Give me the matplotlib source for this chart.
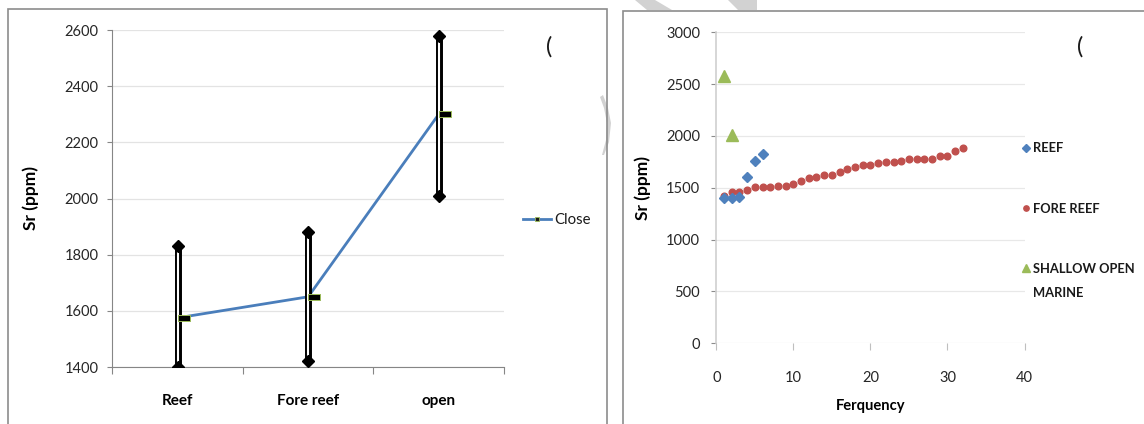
import matplotlib
matplotlib.use('Agg')
import matplotlib.pyplot as plt
from matplotlib.path import Path
from matplotlib.lines import Line2D
from matplotlib.patches import Rectangle, Polygon

plt.rcParams['font.family'] = ['Lato', 'DejaVu Sans']
plt.rcParams['text.color'] = '#1a1a1a'

# left chart: high / low / close per environment
categories = ['Reef', 'Fore reef', 'open']
sr_high = [1830, 1880, 2580]
sr_low = [1400, 1420, 2010]
sr_close = [1575, 1650, 2300]

# right chart: Sr values by rank (frequency)
freq_reef = [1, 2, 3, 4, 5, 6]
sr_reef = [1400, 1400, 1410, 1605, 1760, 1830]
freq_fore = [1, 2, 3, 4, 5, 6, 7, 8, 9, 10, 11, 12, 13, 14, 15, 16,
             17, 18, 19, 20, 21, 22, 23, 24, 25, 26, 27, 28, 29, 30, 31, 32]
sr_fore = [1420, 1455, 1455, 1480, 1503, 1503, 1510, 1513, 1522, 1538, 1564, 1590,
           1603, 1628, 1628, 1654, 1686, 1705, 1724, 1724, 1737, 1750, 1750, 1757,
           1776, 1776, 1776, 1776, 1808, 1808, 1853, 1882]
freq_open = [1, 2]
sr_open = [2580, 2010]

W, H = 1144, 424


def fx(px):
    return px / W


def fy(py):
    return 1 - py / H


fig = plt.figure(figsize=(W / 100, H / 100), dpi=100)

# panel frames and bits of the background watermark
fig.add_artist(Rectangle((fx(8.3), fy(430)), fx(606.7 - 8.3), fy(9.3) - fy(430),
                         fill=False, ec='#8c8c8c', lw=1.2, zorder=-1))
fig.add_artist(Rectangle((fx(622.7), fy(430)), fx(1150 - 622.7), fy(11) - fy(430),
                         fill=False, ec='#8c8c8c', lw=1.2, zorder=-1))
wm = '#d2d2d2'
for pts in [[(635, 0), (655, 0), (672, 10), (647, 10)],
            [(728, 0), (757, 0), (757, 10), (738, 10)],
            [(603, 95), (608, 108), (611, 123), (609, 142), (604, 155),
             (602, 155), (606, 140), (607, 123), (604, 108), (600, 97)]]:
    fig.add_artist(Polygon([(fx(a), fy(b)) for a, b in pts], closed=True,
                           fc=wm, ec='none', zorder=-2))

# ---------------- left: high-low-close ----------------
ax1 = fig.add_axes([fx(112.4), fy(367), fx(504 - 112.4), fy(30) - fy(367)])
x = list(range(len(categories)))

ax1.plot(x, sr_close, color='#4A7EBB', lw=2, zorder=2)
ax1.vlines(x, sr_low, sr_high, color='black', lw=5, zorder=3)
ax1.vlines(x, sr_low, sr_high, color='white', lw=1.5, zorder=3.1)
ax1.plot(x, sr_high, ls='none', marker='D', ms=6.2, color='black', zorder=4)
ax1.plot(x, sr_low, ls='none', marker='D', ms=6.2, color='black', zorder=4)

close_mark = Path([(0, -0.25), (1, -0.25), (1, 0.25), (0, 0.25), (0, -0.25)],
                  [Path.MOVETO, Path.LINETO, Path.LINETO, Path.LINETO, Path.CLOSEPOLY])
ax1.plot(x, sr_close, ls='none', marker=close_mark, ms=17, mfc='black',
         mec='#9BBB59', mew=0.7, zorder=5)

ax1.set_xlim(-0.5, 2.5)
ax1.set_ylim(1400, 2600)
ax1.set_yticks([1400, 1600, 1800, 2000, 2200, 2400, 2600])
ax1.set_xticks([-0.5, 0.5, 1.5, 2.5])
ax1.set_xticklabels([])
ax1.set_xticks(x, minor=True)
ax1.set_xticklabels(categories, minor=True, fontweight='bold', fontsize=11)
ax1.tick_params(axis='x', which='major', length=5, color='#868686', direction='out')
ax1.tick_params(axis='x', which='minor', length=0, pad=19.5)
ax1.tick_params(axis='y', length=3.6, color='#868686', pad=6.5, labelsize=10.5,
                labelcolor='#262626')
for s in ['top', 'right']:
    ax1.spines[s].set_visible(False)
for s in ['left', 'bottom']:
    ax1.spines[s].set_color('#868686')
ax1.yaxis.grid(True, color='#e3e3e3', lw=0.9)
ax1.set_axisbelow(True)
ax1.set_ylabel('Sr (ppm)', fontweight='bold', fontsize=12.5, labelpad=18)

close_handle = Line2D([0], [0], color='#4A7EBB', lw=2, marker='s', ms=2.5,
                      mfc='#1a1a1a', mec='#9BBB59', mew=0.6)
ax1.legend(handles=[close_handle], labels=['Close'], loc='center left',
           bbox_to_anchor=((523 - 112.4) / 391.6, (367 - 220) / 337),
           frameon=False, borderpad=0, borderaxespad=0, handlelength=1.9,
           handletextpad=0.2, fontsize=10.7)
fig.text(fx(549), fy(47), '(', fontsize=17, ha='center', va='center')

# ---------------- right: Sr vs frequency ----------------
ax2 = fig.add_axes([fx(716.3), fy(343.3), fx(1024.5 - 716.3), fy(32.3) - fy(343.3)])
ax2.plot(freq_reef, sr_reef, ls='none', marker='D', ms=5.3, color='#4F81BD',
         label='REEF', zorder=3)
ax2.plot(freq_fore, sr_fore, ls='none', marker='o', ms=4.8, color='#C0504D',
         label='FORE REEF', zorder=2)
ax2.plot(freq_open, sr_open, ls='none', marker='^', ms=8, color='#9BBB59',
         label='SHALLOW OPEN', zorder=3)

ax2.set_xlim(0, 40)
ax2.set_ylim(0, 3000)
ax2.set_xticks([0, 10, 20, 30, 40])
ax2.set_yticks([0, 500, 1000, 1500, 2000, 2500, 3000])
ax2.tick_params(axis='x', length=5, color='#bfbfbf', pad=15, labelsize=10.5,
                labelcolor='#262626')
ax2.tick_params(axis='y', length=3.6, color='#8c8c8c', pad=8, labelsize=10.5,
                labelcolor='#262626')
for s in ['top', 'right', 'bottom']:
    ax2.spines[s].set_visible(False)
ax2.spines['left'].set_color('#d0d0d0')
ax2.spines['left'].set_linewidth(1.2)
ax2.yaxis.grid(True, color='#e8e8e8', lw=0.9)
ax2.set_axisbelow(True)
ax2.set_xlabel('Ferquency', fontweight='bold', fontsize=10.6, labelpad=10)
ax2.set_ylabel('Sr (ppm)', fontweight='bold', fontsize=12.5, labelpad=11)

leg = ax2.legend(loc='upper left', bbox_to_anchor=((1021.8 - 716.3) / 308.2,
                                                   (343.3 - 142.5) / 311),
                 frameon=False, borderpad=0, borderaxespad=0, numpoints=1,
                 handlelength=0.6, handletextpad=0.25, labelspacing=3.72,
                 markerscale=0.8, prop={'weight': 'bold', 'size': 9.3})
ax2.annotate('MARINE', xy=(0, 0), xycoords=leg.get_texts()[2],
             xytext=(0, -16), textcoords='offset points', va='baseline',
             ha='left', fontweight='bold', fontsize=9.3, zorder=10)
fig.text(fx(1080), fy(47), '(', fontsize=17, ha='center', va='center')

fig.savefig('out.png', dpi=100)
